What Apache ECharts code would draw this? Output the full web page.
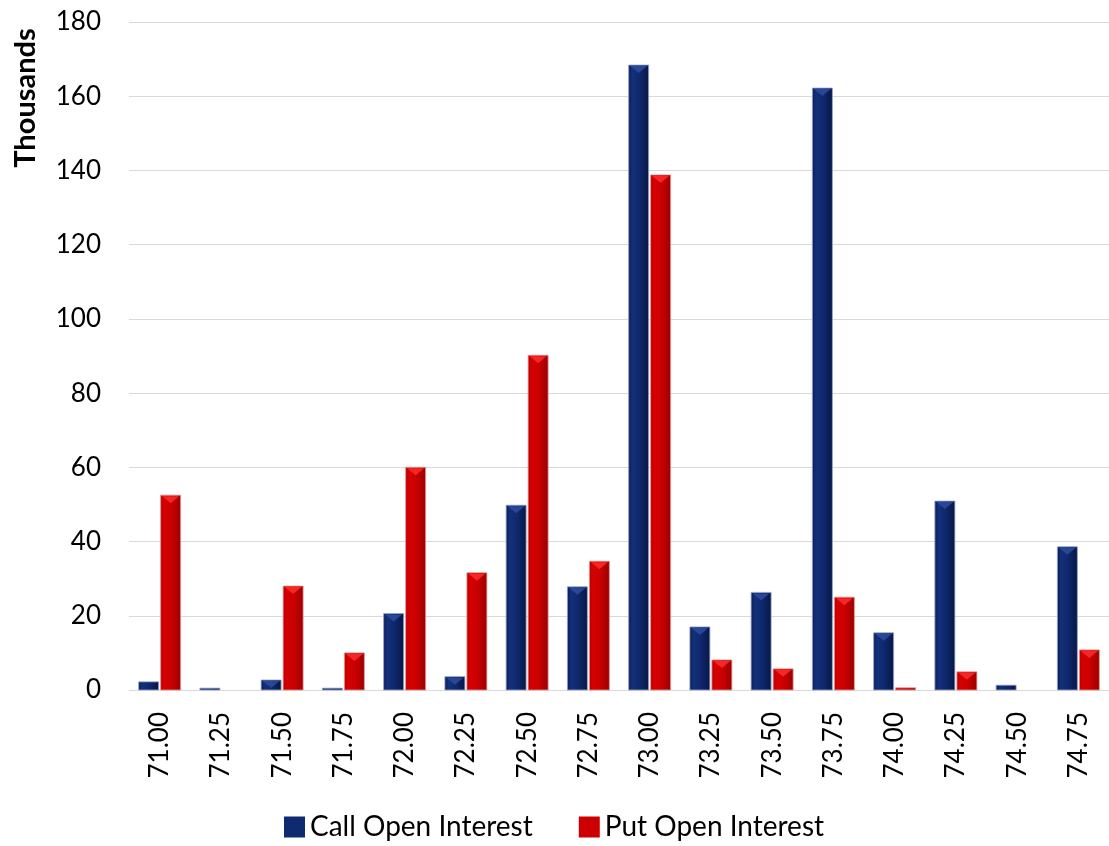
<!DOCTYPE html>
<html>
<head>
<meta charset="utf-8">
<script src="https://cdn.jsdelivr.net/npm/echarts@6/dist/echarts.min.js"></script>
<style>html,body{margin:0;padding:0;background:#fff;}#c{width:1109px;height:846px;}</style>
</head>
<body>
<div id="c"></div>
<script>
const categories = ['71.00','71.25','71.50','71.75','72.00','72.25','72.50','72.75','73.00','73.25','73.50','73.75','74.00','74.25','74.50','74.75'];
const callOI = [2.2, 0.5, 2.7, 0.5, 20.6, 3.6, 49.8, 27.8, 168.4, 17.0, 26.3, 162.2, 15.4, 50.9, 1.3, 38.6];
const putOI  = [52.5, 0, 28.0, 10.0, 60.0, 31.6, 90.2, 34.7, 138.8, 8.1, 5.7, 25.0, 0.6, 4.9, 0, 10.8];
const yTicks = [0, 20, 40, 60, 80, 100, 120, 140, 160, 180];

const font = 'Lato';
const BW = 20, GAP = 2;

function grad(stops){ return new echarts.graphic.LinearGradient(0,0,1,0,stops.map(s=>({offset:s[0],color:s[1]}))); }
const styles = {
  call:{ body:[[0,'#0a1c52'],[0.2,'#13307a'],[0.55,'#0f286c'],[1,'#071744']], bevel:'#2d4c9c', stroke:'rgba(150,165,210,0.8)', legend:'#0f2a6e' },
  put: { body:[[0,'#b80000'],[0.2,'#d60000'],[0.55,'#c80000'],[1,'#990000']], bevel:'#ff2b2b', stroke:'rgba(230,150,150,0.8)', legend:'#cc0000' }
};

function makeRender(st, side){
  return function(params, api){
    const idx = api.value(0), v = api.value(1);
    const top = api.coord([idx, v]);
    const base = api.coord([idx, 0]);
    const cx = top[0] + side * (BW/2 + GAP/2);
    const x0 = cx - BW/2;
    const h = base[1] - top[1];
    if (h <= 0) return null;
    const children = [{
      type:'rect', shape:{x:x0, y:top[1], width:BW, height:h},
      style:{fill:grad(st.body), stroke:st.stroke, lineWidth:1}
    }];
    if (h > 10) {
      children.push({
        type:'polygon', shape:{points:[[x0+1.5, top[1]+1],[x0+BW-1.5, top[1]+1],[cx, top[1]+8]]},
        style:{fill:st.bevel, opacity:0.85}
      });
    }
    return {type:'group', children:children};
  };
}

const callData = callOI.map((v,i)=>[i,v]);
const putData = putOI.map((v,i)=>[i,v]);

const chart = echarts.init(document.getElementById('c'));
chart.setOption({
  animation:false,
  backgroundColor:'#ffffff',
  grid:{left:129, top:22, width:986, bottom:156, containLabel:false},
  graphic:[{
    type:'text', x:26, y:98, rotation:Math.PI/2,
    style:{text:'Thousands', font:'bold 29px Lato', fill:'#000', align:'center', verticalAlign:'middle'}
  }],
  legend:{
    bottom:0, left:279, itemWidth:21, itemHeight:21, itemGap:46, icon:'rect',
    textStyle:{fontFamily:font, fontSize:28, color:'#000'},
    data:['Call Open Interest','Put Open Interest']
  },
  xAxis:{
    type:'category', data:categories,
    axisLine:{lineStyle:{color:'#d9d9d9', width:1}},
    axisTick:{show:false},
    axisLabel:{rotate:90, margin:22, fontFamily:font, fontSize:26, color:'#000', interval:0}
  },
  yAxis:{
    type:'value', min:yTicks[0], max:yTicks[yTicks.length-1], interval:20,
    axisLine:{show:false}, axisTick:{show:false},
    splitLine:{lineStyle:{color:'#d9d9d9', width:1}},
    axisLabel:{fontFamily:font, fontSize:26, color:'#000', margin:28}
  },
  series:[
    {name:'Call Open Interest', type:'custom', data:callData, renderItem:makeRender(styles.call,-1),
     itemStyle:{color:styles.call.legend}, encode:{x:0,y:1}},
    {name:'Put Open Interest', type:'custom', data:putData, renderItem:makeRender(styles.put,1),
     itemStyle:{color:styles.put.legend}, encode:{x:0,y:1}}
  ]
});
</script>
</body>
</html>
